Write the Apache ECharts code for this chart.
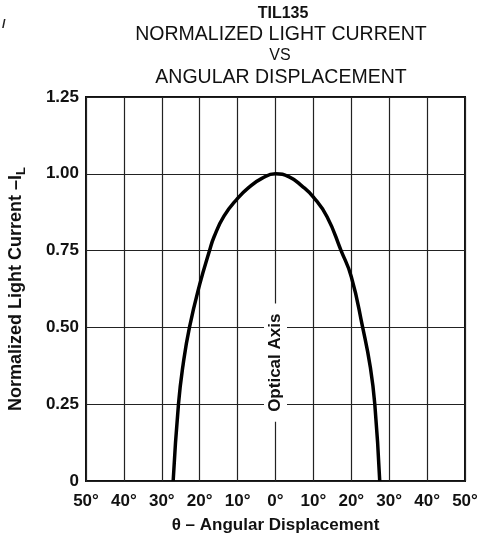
<!DOCTYPE html>
<html>
<head>
<meta charset="utf-8">
<script src="https://cdn.jsdelivr.net/npm/echarts@6/dist/echarts.min.js"></script>
<style>
html,body{margin:0;padding:0;background:#fff;}
#c{width:492px;height:537px;}
</style>
</head>
<body>
<div id="c"></div>
<script>
// Data
var angles  = [-27.0, -25.6, -24.4, -22.7, -20, -17.4, -16.2, -13.6, -10, -7.1, -3.6, 0, 3.6, 7.0, 10, 13.6, 17.3, 20, 23.0, 25.0, 26.2, 27.5];
var current = [0, 0.25, 0.377, 0.5, 0.64, 0.75, 0.795, 0.862, 0.92, 0.955, 0.985, 1.0, 0.99, 0.96, 0.924, 0.86, 0.75, 0.665, 0.5, 0.372, 0.25, 0];
var xMin = -50, xMax = 50, xStep = 10;
var yMin = 0, yMax = 1.25, yStep = 0.25;
var titleLines = ['TIL135', 'NORMALIZED LIGHT CURRENT', 'VS', 'ANGULAR DISPLACEMENT'];
var axisLabelText = 'Optical Axis';

var FONT = '"Liberation Sans", Arial, Helvetica, sans-serif';
var chart = echarts.init(document.getElementById('c'), null, {renderer: 'canvas'});

var pts = angles.map(function (a, i) { return [a, current[i]]; });

chart.setOption({
  animation: false,
  backgroundColor: '#fff',
  textStyle: {fontFamily: FONT},
  graphic: [
    {type: 'text', left: 2, top: 18, style: {text: '/', font: 'bold 13px ' + FONT, fill: '#222'}},
    {type: 'text', x: 283, y: 14, style: {text: titleLines[0], font: 'bold 16px ' + FONT, fill: '#111', textAlign: 'center', textVerticalAlign: 'middle'}},
    {type: 'text', x: 281, y: 35, style: {text: titleLines[1], font: '19.5px ' + FONT, fill: '#111', textAlign: 'center', textVerticalAlign: 'middle'}},
    {type: 'text', x: 280, y: 56, style: {text: titleLines[2], font: '16px ' + FONT, fill: '#111', textAlign: 'center', textVerticalAlign: 'middle'}},
    {type: 'text', x: 281, y: 78, style: {text: titleLines[3], font: '19.5px ' + FONT, fill: '#111', textAlign: 'center', textVerticalAlign: 'middle'}}
  ],
  grid: {left: 86, right: 27, top: 97, bottom: 56, outerBoundsMode: 'none', containLabel: false,
    show: true, borderColor: '#111', borderWidth: 2, backgroundColor: 'transparent'},
  xAxis: {
    type: 'value', min: xMin, max: xMax, interval: xStep,
    name: 'θ – Angular Displacement', nameLocation: 'middle', nameGap: 36,
    nameTextStyle: {fontFamily: FONT, fontWeight: 'bold', fontSize: 17, color: '#111'},
    axisLine: {show: false}, axisTick: {show: false},
    axisLabel: {fontFamily: FONT, fontWeight: 'bold', fontSize: 17, color: '#111', margin: 12,
      formatter: function (v) { return Math.abs(v) + '°'; }},
    splitLine: {show: true, lineStyle: {color: '#222', width: 1.2}}
  },
  yAxis: {
    type: 'value', min: yMin, max: yMax, interval: yStep,
    name: '{a|Normalized Light Current –I}{s|L}', nameLocation: 'middle', nameGap: 58,
    nameTextStyle: {fontFamily: FONT, fontWeight: 'bold', fontSize: 18, color: '#111',
      rich: {
        a: {fontFamily: FONT, fontWeight: 'bold', fontSize: 18, color: '#111'},
        s: {fontFamily: FONT, fontWeight: 'bold', fontSize: 13, color: '#111', padding: [10, 0, 0, 0]}
      }},
    axisLine: {show: false}, axisTick: {show: false},
    axisLabel: {fontFamily: FONT, fontWeight: 'bold', fontSize: 17, color: '#111', margin: 7,
      formatter: function (v) { return v === 0 ? '0' : v.toFixed(2); }},
    splitLine: {show: true, lineStyle: {color: '#222', width: 1.2}}
  },
  series: [{
    type: 'line',
    data: pts,
    smooth: 0.5,
    symbol: 'none',
    lineStyle: {color: '#000', width: 3.5},
    markPoint: {
      symbol: 'rect', symbolSize: 0, silent: true,
      data: [{coord: [0, 0.385], value: 0}],
      label: {
        show: true, position: 'inside', rotate: 90,
        formatter: axisLabelText,
        fontFamily: FONT, fontWeight: 'bold', fontSize: 17, color: '#111',
        backgroundColor: '#fff', padding: [3, 10, 3, 10]
      }
    }
  }]
});
</script>
</body>
</html>
